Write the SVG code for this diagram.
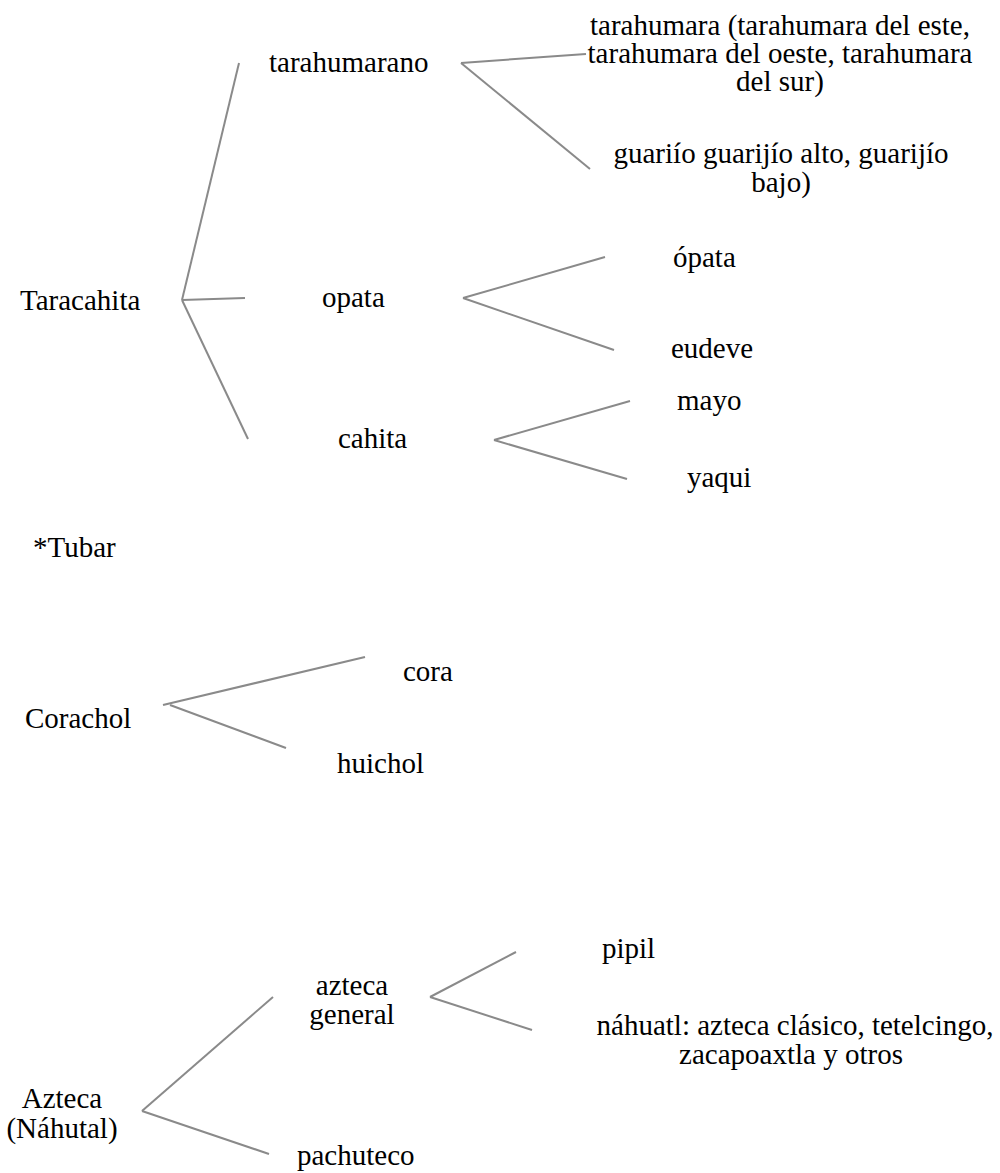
<svg xmlns="http://www.w3.org/2000/svg" width="1000" height="1173" viewBox="0 0 1000 1173">
<style>
text{font-family:"Liberation Serif","Times New Roman",serif;font-size:29px;fill:#000}
.c{text-anchor:middle}
#connectors line{stroke:#8a8a8a;stroke-width:2;fill:none}
</style>
<rect width="1000" height="1173" fill="#fff"/>
<g id="connectors">
<line x1="182" y1="300" x2="239" y2="63"/>
<line x1="182" y1="300" x2="245" y2="298"/>
<line x1="182" y1="300" x2="248" y2="439"/>
<line x1="461" y1="63" x2="586" y2="54"/>
<line x1="461" y1="63" x2="590" y2="169"/>
<line x1="463" y1="298" x2="605" y2="257"/>
<line x1="463" y1="298" x2="614" y2="350"/>
<line x1="494" y1="440" x2="630" y2="401"/>
<line x1="494" y1="440" x2="627" y2="479"/>
<line x1="163" y1="705" x2="365" y2="657"/>
<line x1="170" y1="705" x2="286" y2="748"/>
<line x1="142" y1="1111" x2="273" y2="997"/>
<line x1="142" y1="1111" x2="269" y2="1154"/>
<line x1="430" y1="997" x2="516" y2="952"/>
<line x1="430" y1="997" x2="532" y2="1030"/>
</g>
<g id="taracahita"><text x="20" y="310">Taracahita</text></g>
<g id="tarahumarano"><text x="269" y="72">tarahumarano</text></g>
<g id="opata"><text x="322" y="307">opata</text></g>
<g id="cahita"><text x="338" y="448">cahita</text></g>
<g id="tarahumara"><text class="c" y="35"><tspan x="780">tarahumara (tarahumara del este,</tspan><tspan x="780" dy="28">tarahumara del oeste, tarahumara</tspan><tspan x="780" dy="28">del sur)</tspan></text></g>
<g id="guarijio"><text class="c" y="163"><tspan x="781">guariío guarijío alto, guarijío</tspan><tspan x="781" dy="29">bajo)</tspan></text></g>
<g id="opata2"><text x="673" y="267">ópata</text></g>
<g id="eudeve"><text x="671" y="358">eudeve</text></g>
<g id="mayo"><text x="677" y="410">mayo</text></g>
<g id="yaqui"><text x="687" y="487">yaqui</text></g>
<g id="tubar"><text x="33" y="557">*Tubar</text></g>
<g id="corachol"><text x="25" y="728">Corachol</text></g>
<g id="cora"><text x="403" y="681">cora</text></g>
<g id="huichol"><text x="337" y="773">huichol</text></g>
<g id="azteca"><text class="c" y="1108"><tspan x="62">Azteca</tspan><tspan x="62" dy="30">(Náhutal)</tspan></text></g>
<g id="aztecageneral"><text class="c" y="995"><tspan x="352">azteca</tspan><tspan x="352" dy="29">general</tspan></text></g>
<g id="pachuteco"><text x="297" y="1165">pachuteco</text></g>
<g id="pipil"><text x="602" y="958">pipil</text></g>
<g id="nahuatl"><text class="c" y="1035"><tspan x="795">náhuatl: azteca clásico, tetelcingo,</tspan><tspan x="791" dy="29">zacapoaxtla y otros</tspan></text></g>
</svg>
